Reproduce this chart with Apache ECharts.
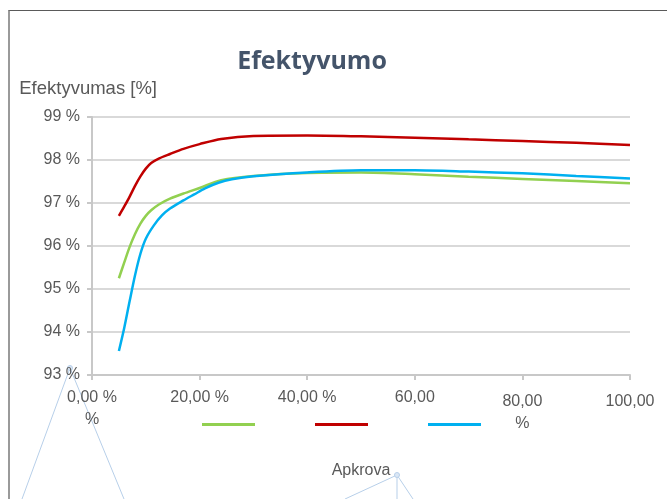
<!DOCTYPE html>
<html><head><meta charset="utf-8">
<script src="https://cdn.jsdelivr.net/npm/echarts@6/dist/echarts.min.js"></script>
<style>
html,body{margin:0;padding:0;width:667px;height:499px;overflow:hidden;background:#fff;}
#frame{position:absolute;left:8px;top:10px;width:700px;height:600px;border-left:2px solid #9a9a9a;border-top:1px solid #5a5a5a;}
#c{position:absolute;left:0;top:0;width:667px;height:499px;}
</style></head>
<body>
<div id="frame"></div>
<div id="c"></div>
<script>
const titleText = 'Efektyvumo';
const yAxisName = 'Efektyvumas [%]';
const xAxisName = 'Apkrova';
const seriesNames = ['Serija 1', 'Serija 2', 'Serija 3'];
const xTickLabels = {0:'0,00 %\n%', 20:'20,00 %', 40:'40,00 %', 60:'60,00', 80:'80,00\n%', 100:'100,00'};

const greenLoad = [5, 6, 7, 8, 9, 10, 11, 12.5, 14.5, 17, 20, 24, 30, 40, 50, 60, 70, 80, 90, 100];
const greenEff  = [95.25, 95.62, 95.98, 96.28, 96.52, 96.70, 96.83, 96.97, 97.10, 97.22, 97.35, 97.53, 97.63, 97.70, 97.71, 97.67, 97.61, 97.56, 97.51, 97.46];
const redLoad   = [5, 6, 7, 8, 9, 10, 11, 12.5, 14.5, 17, 20, 24, 30, 40, 50, 60, 70, 80, 90, 100];
const redEff    = [96.70, 96.92, 97.15, 97.40, 97.62, 97.80, 97.93, 98.04, 98.14, 98.26, 98.37, 98.49, 98.56, 98.57, 98.55, 98.52, 98.48, 98.44, 98.40, 98.35];
const blueLoad  = [5, 6, 7, 8, 9, 10, 11.5, 13, 14.5, 17, 19, 21, 23.5, 26, 30, 40, 50, 60, 70, 80, 90, 100];
const blueEff   = [93.56, 94.10, 94.72, 95.32, 95.82, 96.17, 96.48, 96.71, 96.87, 97.06, 97.20, 97.34, 97.47, 97.55, 97.62, 97.71, 97.76, 97.76, 97.73, 97.69, 97.63, 97.57];

const pair = (xs, ys) => xs.map((x, i) => [x, ys[i]]);
const colors = ['#92d050', '#c00000', '#00b0f0'];
const labelColor = '#595959';
const font = 'Liberation Sans';

const chart = echarts.init(document.getElementById('c'), null, {renderer: 'canvas'});
chart.setOption({
  animation: false,
  color: colors,
  title: {
    text: titleText, left: 307, textAlign: 'center', top: 44,
    textStyle: {fontFamily: 'Open Sans', fontWeight: 'bold', fontSize: 25, color: '#44546a'}
  },
  grid: {left: 92, right: 37, top: 117, bottom: 124, containLabel: false},
  legend: {
    left: 197, top: 418, itemWidth: 53, itemHeight: 3, itemGap: 60,
    icon: 'rect', formatter: () => '',
    textStyle: {fontSize: 1},
    data: seriesNames
  },
  xAxis: {
    type: 'value', min: 0, max: 100, interval: 20,
    name: xAxisName, nameLocation: 'middle', nameGap: 88,
    nameTextStyle: {fontFamily: font, fontSize: 16, color: labelColor},
    axisLine: {show: true, lineStyle: {color: '#c8c8c8', width: 2}},
    axisTick: {show: true, length: 5, lineStyle: {color: '#c8c8c8', width: 2}},
    splitLine: {show: false},
    axisLabel: {
      margin: 12, fontFamily: font, fontSize: 16, color: labelColor, lineHeight: 22,
      formatter: v => {
        const t = xTickLabels[v];
        if (v >= 80) return '{d|' + t.split('\n').join('}\n{d|') + '}';
        return t;
      },
      rich: {d: {fontFamily: font, fontSize: 16, color: labelColor, lineHeight: 22, padding: [8, 0, 0, 0]}}
    }
  },
  yAxis: {
    type: 'value', min: 93, max: 99, interval: 1,
    name: yAxisName, nameLocation: 'end', nameGap: 19,
    nameTextStyle: {fontFamily: font, fontSize: 18.5, color: labelColor, align: 'right', padding: [0, -65, 0, 0]},
    axisLine: {show: true, lineStyle: {color: '#c8c8c8', width: 2}},
    axisTick: {show: true, length: 5, inside: false, lineStyle: {color: '#c8c8c8', width: 2}},
    splitLine: {show: true, lineStyle: {color: '#d9d9d9', width: 2}},
    axisLabel: {margin: 12, fontFamily: font, fontSize: 16, color: labelColor, formatter: v => v + ' %'}
  },
  series: [
    {name: seriesNames[0], type: 'line', smooth: 0.3, symbol: 'none', lineStyle: {width: 2.5, color: colors[0]}, data: pair(greenLoad, greenEff)},
    {name: seriesNames[1], type: 'line', smooth: 0.3, symbol: 'none', lineStyle: {width: 2.5, color: colors[1]}, data: pair(redLoad, redEff)},
    {name: seriesNames[2], type: 'line', smooth: 0.3, symbol: 'none', lineStyle: {width: 2.5, color: colors[2]}, data: pair(blueLoad, blueEff)}
  ],
  graphic: [
    {type: 'polyline', silent: true, shape: {points: [[22, 499], [70, 368], [124, 499]]}, style: {stroke: '#b7cfe9', lineWidth: 1, fill: null}},
    {type: 'circle', silent: true, shape: {cx: 70, cy: 368, r: 2.5}, style: {stroke: '#b7cfe9', fill: '#dbe7f5', lineWidth: 1}},
    {type: 'polyline', silent: true, shape: {points: [[345, 499], [397, 475], [397, 499]]}, style: {stroke: '#b7cfe9', lineWidth: 1, fill: null}},
    {type: 'line', silent: true, shape: {x1: 397, y1: 475, x2: 413, y2: 499}, style: {stroke: '#b7cfe9', lineWidth: 1}},
    {type: 'circle', silent: true, shape: {cx: 397, cy: 475, r: 2.5}, style: {stroke: '#b7cfe9', fill: '#dbe7f5', lineWidth: 1}}
  ]
});
</script>
</body></html>
